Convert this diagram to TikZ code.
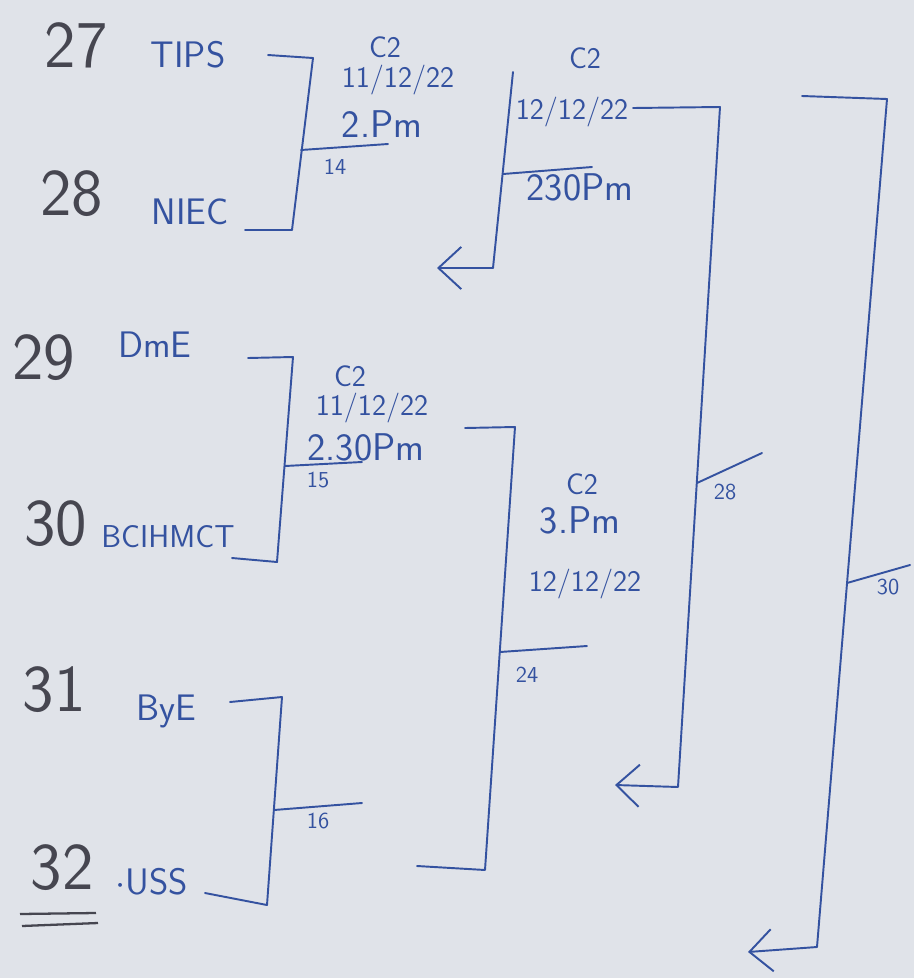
\documentclass[tikz,border=0pt]{standalone}
\usepackage{xcolor}
\usepackage{tikz}
\usetikzlibrary{arrows.meta}

\definecolor{pen}{RGB}{52,82,160}
\definecolor{pencil}{RGB}{70,70,80}
\definecolor{paper}{RGB}{224,227,233}

\begin{document}
\begin{tikzpicture}[x=0.2mm,y=-0.2mm,
    seed/.style={text=pencil,font=\sffamily\fontsize{38}{40}\selectfont},
    team/.style={text=pen,font=\sffamily\fontsize{21}{23}\selectfont},
    note/.style={text=pen,font=\sffamily\fontsize{17}{19}\selectfont},
    time/.style={text=pen,font=\sffamily\fontsize{22}{24}\selectfont},
    score/.style={text=pen,font=\sffamily\fontsize{13}{15}\selectfont},
    ink/.style={draw=pen,line width=1.1pt,line join=round,line cap=round},
    winner/.style={ink,-{Straight Barb[length=13pt,width=24pt,line width=1.1pt]}}]

        \fill[paper] (0,0) rectangle (914,978);

        \node[seed] (s27) at (76,45)  {27};
        \node[team] (tips) at (188,55) {TIPS};
        \node[seed] (s28) at (72,194) {28};
        \node[team] (niec) at (190,212) {NIEC};
        \node[seed] (s29) at (44,358) {29};
        \node[team] (dme) at (155,345) {DmE};
        \node[seed] (s30) at (56,524) {30};
        \node[team,font=\sffamily\fontsize{18}{20}\selectfont] (bci) at (168,537) {BCIHMCT};
        \node[seed] (s31) at (54,690) {31};
        \node[team] (bye) at (166,711) {ByE};
        \node[seed] (s32) at (62,868) {32};
        \node[team] (uss) at (152,882) {$\cdot$USS};

        \coordinate (u1a) at (20,914);
        \coordinate (u1b) at (96,913);
        \coordinate (u2a) at (22,926);
        \coordinate (u2b) at (98,923);
        \draw[draw=pencil,line width=1.3pt] (u1a) -- (u1b) (u2a) -- (u2b);

        \coordinate (a1) at (268,55);
        \coordinate (a2) at (313,58);
        \coordinate (a3) at (292,230);
        \coordinate (a4) at (245,230);
        \coordinate (am) at (301,150);
        \coordinate (ao) at (388,144);
        \draw[ink] (a1) -- (a2) -- (a3) -- (a4);
        \draw[ink] (am) -- (ao);
        \node[note] (ac) at (385,47) {C2};
        \node[note] (ad) at (398,80) {11/12/22};
        \node[time] (at) at (382,124) {2.Pm};
        \node[score] (as) at (335,167) {14};

        \coordinate (b1) at (248,358);
        \coordinate (b2) at (293,357);
        \coordinate (b3) at (277,562);
        \coordinate (b4) at (232,558);
        \coordinate (bm) at (285,466);
        \coordinate (bo) at (362,462);
        \draw[ink] (b1) -- (b2) -- (b3) -- (b4);
        \draw[ink] (bm) -- (bo);
        \node[note] (bc) at (350,376) {C2};
        \node[note] (bd) at (372,408) {11/12/22};
        \node[time] (bt) at (366,447) {2.30Pm};
        \node[score] (bs) at (318,480) {15};

        \coordinate (c1) at (230,702);
        \coordinate (c2) at (282,697);
        \coordinate (c3) at (267,905);
        \coordinate (c4) at (205,893);
        \coordinate (cm) at (274,810);
        \coordinate (co) at (362,803);
        \draw[ink] (c1) -- (c2) -- (c3) -- (c4);
        \draw[ink] (cm) -- (co);
        \node[score] (cs) at (318,821) {16};

        \coordinate (d1) at (513,72);
        \coordinate (d2) at (493,268);
        \coordinate (d3) at (437,268);
        \coordinate (dm) at (503,174);
        \coordinate (do) at (592,167);
        \draw[winner] (d1) -- (d2) -- (d3);
        \draw[ink] (dm) -- (do);
        \node[note] (dc) at (585,58) {C2};
        \node[note] (dd) at (572,112) {12/12/22};
        \node[time] (dt) at (580,187) {230Pm};

        \coordinate (e1) at (465,428);
        \coordinate (e2) at (515,427);
        \coordinate (e3) at (485,870);
        \coordinate (e4) at (417,866);
        \coordinate (em) at (500,652);
        \coordinate (eo) at (587,646);
        \draw[ink] (e1) -- (e2) -- (e3) -- (e4);
        \draw[ink] (em) -- (eo);
        \node[note] (ec) at (582,484) {C2};
        \node[time] (et) at (580,520) {3.Pm};
        \node[note] (ed) at (585,584) {12/12/22};
        \node[score] (es) at (527,675) {24};

        \coordinate (f1) at (633,108);
        \coordinate (f2) at (720,107);
        \coordinate (f3) at (678,787);
        \coordinate (f4) at (615,785);
        \coordinate (fm) at (697,483);
        \coordinate (fo) at (762,453);
        \draw[winner] (f1) -- (f2) -- (f3) -- (f4);
        \draw[ink] (fm) -- (fo);
        \node[score] (fs) at (725,492) {28};

        \coordinate (g1) at (802,96);
        \coordinate (g2) at (887,99);
        \coordinate (g3) at (817,947);
        \coordinate (g4) at (748,952);
        \coordinate (gm) at (847,583);
        \coordinate (go) at (910,565);
        \draw[winner] (g1) -- (g2) -- (g3) -- (g4);
        \draw[ink] (gm) -- (go);
        \node[score] (gs) at (888,587) {30};
      \end{tikzpicture}
\end{document}
